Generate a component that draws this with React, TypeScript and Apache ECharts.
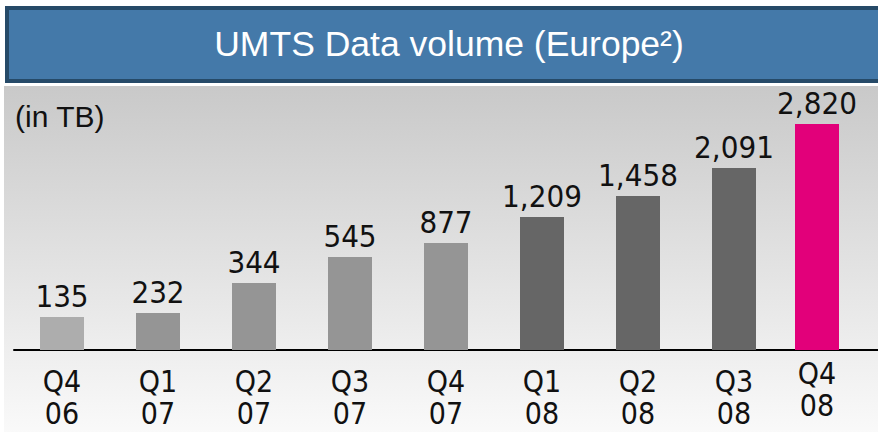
import React, { useEffect, useRef } from "react";
import * as echarts from "echarts";

// Chart content
const title = "UMTS Data volume (Europe²)";
const unitLabel = "(in TB)";
const categories = ["Q4 06", "Q1 07", "Q2 07", "Q3 07", "Q4 07", "Q1 08", "Q2 08", "Q3 08", "Q4 08"];
// values printed above each bar
const values = [135, 232, 344, 545, 877, 1209, 1458, 2091, 2820];
// bar lengths as drawn in the reference (not proportional to the printed values)
const barLengths = [33, 37, 67, 93, 107, 133, 154, 182, 226];
const barColors = ["#adadad", "#959595", "#959595", "#959595", "#959595", "#666666", "#666666", "#666666", "#e2007a"];

const NARROW = '"Liberation Sans Narrow", "DejaVu Sans Condensed", "Liberation Sans", sans-serif';
const REGULAR = '"Liberation Sans", Arial, sans-serif';

export default function App() {
  const ref = useRef<HTMLDivElement>(null);

  useEffect(() => {
    if (!ref.current) return;
    const chart = echarts.init(ref.current, undefined, { renderer: "svg" });
    const last = categories.length - 1;
    const labelCfg = {
      show: true,
      position: "top" as const,
      distance: 6,
      fontFamily: NARROW,
      fontSize: 31,
      color: "#111111",
      formatter: (p: any) => values[p.dataIndex].toLocaleString("en-US"),
    };
    const mainData = barLengths.map((v, i) =>
      i === last ? "-" : { value: v, itemStyle: { color: barColors[i] } }
    );
    const lastData = barLengths.map((v, i) =>
      i === last ? { value: v, itemStyle: { color: barColors[i] } } : "-"
    );
    const catLabels = categories.map((c) => c.replace(" ", "\n"));
    const axisLabelBase = {
      fontFamily: NARROW,
      fontSize: 30,
      lineHeight: 32,
      color: "#111111",
    };

    chart.setOption({
      animation: false,
      backgroundColor: "#ffffff",
      graphic: [
        {
          type: "rect",
          z: -10,
          shape: { x: 4, y: 86, width: 880, height: 350 },
          style: {
            fill: {
              type: "linear",
              x: 0, y: 0, x2: 0, y2: 1,
              colorStops: [
                { offset: 0, color: "#c9c9c9" },
                { offset: 0.75, color: "#eeeeee" },
                { offset: 1, color: "#fafafa" },
              ],
            },
          },
        },
        {
          type: "rect",
          z: -10,
          shape: { x: 7, y: 8, width: 880, height: 73 },
          style: { fill: "#4479a9", stroke: "#264a68", lineWidth: 4 },
        },
        {
          type: "text",
          z: 10,
          x: 449,
          y: 44,
          style: {
            text: title,
            fill: "#ffffff",
            font: `35.5px ${REGULAR}`,
            textAlign: "center",
            textVerticalAlign: "middle",
          },
        },
        {
          type: "text",
          z: 10,
          x: 15,
          y: 101,
          style: {
            text: unitLabel,
            fill: "#111111",
            font: `30px ${REGULAR}`,
            textAlign: "left",
            textVerticalAlign: "top",
          },
        },
      ],
      grid: [
        { left: 14, right: 0, top: 86, bottom: 82 },
        { left: 1, right: 13, top: 86, bottom: 82 },
      ],
      xAxis: [
        {
          type: "category",
          gridIndex: 0,
          data: catLabels,
          axisLine: { show: true, lineStyle: { color: "#000000", width: 2 } },
          axisTick: { show: false },
          axisLabel: {
            ...axisLabelBase,
            margin: 15,
            interval: (i: number) => i !== last,
          },
        },
        {
          type: "category",
          gridIndex: 1,
          data: catLabels,
          axisLine: { show: false },
          axisTick: { show: false },
          axisLabel: {
            ...axisLabelBase,
            margin: 7,
            interval: (i: number) => i === last,
          },
        },
      ],
      yAxis: [
        { type: "value", gridIndex: 0, min: 0, max: 264, show: false, splitLine: { show: false } },
        { type: "value", gridIndex: 1, min: 0, max: 264, show: false, splitLine: { show: false } },
      ],
      series: [
        {
          type: "bar",
          xAxisIndex: 0,
          yAxisIndex: 0,
          barWidth: 44,
          data: mainData,
          label: labelCfg,
        },
        {
          type: "bar",
          xAxisIndex: 1,
          yAxisIndex: 1,
          barWidth: 44,
          data: lastData,
          label: labelCfg,
        },
      ],
    });
    return () => chart.dispose();
  }, []);

  return (
    <div
      ref={ref}
      style={{ position: "fixed", left: 0, top: 0, width: 878, height: 432 }}
    />
  );
}
